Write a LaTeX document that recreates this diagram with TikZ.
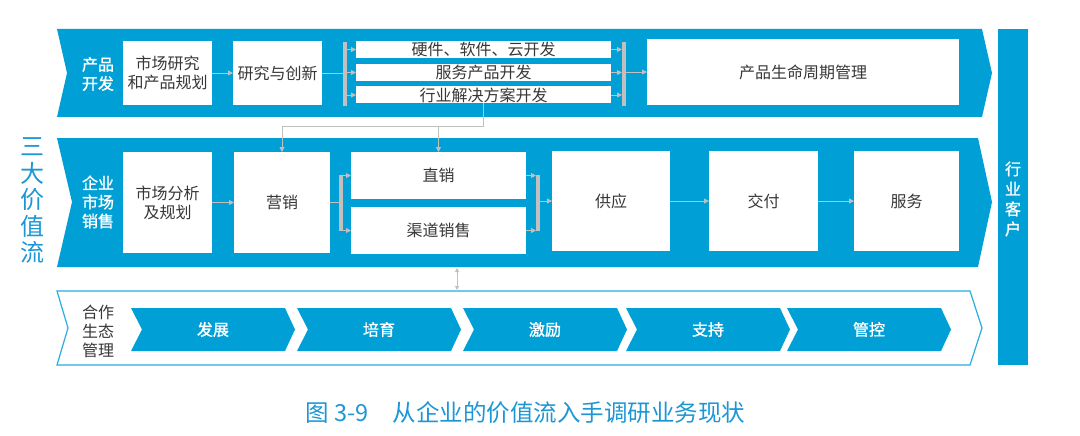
\documentclass[tikz,border=0pt]{standalone}
\usepackage{fontspec}
\setmainfont{Noto Sans CJK SC}
\newfontfamily\cjkbold[FakeBold=1.2]{Noto Sans CJK SC}
\usepackage{tikz}
\usetikzlibrary{arrows.meta, positioning, calc}
\definecolor{bandblue}{RGB}{0,160,214}
\definecolor{lineblue}{RGB}{40,172,226}
\definecolor{capblue}{RGB}{28,150,212}
\definecolor{txtgray}{RGB}{55,55,55}
\definecolor{arrgray}{RGB}{192,192,192}

\begin{document}
\begin{tikzpicture}[
  x=1pt, y=-1pt,
  box/.style={rectangle, fill=white, inner sep=0pt, outer sep=0pt, align=center,
    text=txtgray, font=\fontsize{16}{19}\selectfont},
  bandlabel/.style={align=center, text=white, font=\cjkbold\fontsize{16}{19}\selectfont},
  gbar/.style={rectangle, fill=arrgray, inner sep=0pt, outer sep=0pt, minimum width=4pt},
  garrow/.style={-{Triangle[length=5pt,width=5pt]}, arrgray, line width=0.9pt},
  gline/.style={arrgray, line width=0.9pt}
]
\useasboundingbox (0,0) rectangle (1080,436);

% bands
\fill[bandblue] (57,29) -- (982,29) -- (992,73) -- (982,117) -- (57,117) -- (67,73) -- cycle;
\fill[bandblue] (57,138) -- (978,138) -- (992,202) -- (978,267) -- (57,267) -- (72,202) -- cycle;
\draw[lineblue, line width=1.2pt, fill=white]
  (57,291) -- (970,291) -- (982,328) -- (970,365) -- (57,365) -- (68,328) -- cycle;

% customer bar
\node[rectangle, fill=bandblue, minimum width=30pt, minimum height=336pt, inner sep=0pt] (cust) at (1013,197) {};
\node[bandlabel, font=\cjkbold\fontsize{16}{20}\selectfont] (custtxt) at (1013,199) {行\\业\\客\\户};

% side title
\node[align=center, text=capblue, font=\fontsize{24}{26.5}\selectfont] (title) at (32,201) {三\\大\\价\\值\\流};

% product development
\node[bandlabel] (pdlab) at (98,74) {产品\\开发};
\node[box, minimum width=89pt, minimum height=64pt] (mrs) at (167.5,73) {市场研究\\和产品规划};
\node[box, minimum width=89pt, minimum height=64pt] (rnd) at (277.5,73) {研究与创新};
\node[gbar, minimum height=64pt] (barA) at (345,74) {};
\node[box, minimum width=255pt, minimum height=17pt] (hw) at (483.5,49.5) {硬件、软件、云开发};
\node[box, minimum width=255pt, minimum height=17pt] (svc) at (483.5,72.5) {服务产品开发};
\node[box, minimum width=255pt, minimum height=17pt] (sol) at (483.5,95) {行业解决方案开发};
\node[gbar, minimum height=64pt] (barB) at (624,74) {};
\node[box, minimum width=312pt, minimum height=66pt] (plm) at (803,72) {产品生命周期管理};

\draw[garrow] (mrs.east |- rnd.west) -- (rnd.west);
\draw[gline] (rnd.east) -- (barA.west |- rnd.east);
\foreach \b in {hw,svc,sol} {
  \draw[garrow] (barA.east |- \b.west) -- (\b.west);
  \draw[garrow] (\b.east) -- (barB.west |- \b.east);
}
\draw[garrow] (barB.east |- plm.west) -- (plm.west);

% market and sales
\node[bandlabel] (mslab) at (98,202) {企业\\市场\\销售};
\node[box, minimum width=89pt, minimum height=101pt] (mpa) at (167.5,202.5) {市场分析\\及规划};
\node[box, minimum width=96pt, minimum height=101pt] (mkt) at (282,202.5) {营销};
\node[gbar, minimum height=56pt] (brL) at (341,203) {};
\node[box, minimum width=175pt, minimum height=47pt] (dir) at (438.5,175.5) {直销};
\node[box, minimum width=175pt, minimum height=47pt] (chn) at (438.5,230.5) {渠道销售};
\node[gbar, minimum height=56pt] (brR) at (538,203) {};
\node[box, minimum width=118pt, minimum height=100pt] (sup) at (611,201) {供应};
\node[box, minimum width=109pt, minimum height=100pt] (dlv) at (763.5,201) {交付};
\node[box, minimum width=105pt, minimum height=100pt] (srv) at (906.5,201) {服务};

\draw[garrow] (mpa.east) -- (mkt.west |- mpa.east);
\draw[gline] (mkt.east) -- (brL.west |- mkt.east);
\draw[garrow] (brL.east |- dir.west) -- (dir.west);
\draw[garrow] (brL.east |- chn.west) -- (chn.west);
\draw[garrow] (dir.east) -- (brR.west |- dir.east);
\draw[garrow] (chn.east) -- (brR.west |- chn.east);
\draw[garrow] (brR.east |- sup.west) -- (sup.west);
\draw[garrow] (sup.east) -- (dlv.west |- sup.east);
\draw[garrow] (dlv.east) -- (srv.west |- dlv.east);

% solutions feed marketing and direct sales
\coordinate (feed) at ($(sol.south)+(0,23)$);
\draw[garrow] (sol.south) -- (feed) -| (mkt.north);
\draw[garrow] (feed -| dir.north) -- (dir.north);

% ecosystem
\coordinate (eco top) at (457,268);
\coordinate (eco bot) at (457,290);
\draw[gline, {Triangle[length=4pt,width=4pt]}-{Triangle[length=4pt,width=4pt]}] (eco top) -- (eco bot);

\node[align=center, text=txtgray, font=\fontsize{16}{19}\selectfont] (ecolab) at (98,331) {合作\\生态\\管理};
\foreach \x/\t [count=\i] in {131/发展,297/培育,463/激励,626/支持,787/管控} {
  \fill[bandblue] (\x,308) -- (\x+154,308) -- (\x+164,329.5) -- (\x+154,351) -- (\x,351) -- (\x+11,329.5) -- cycle;
  \node[bandlabel] (eco\i) at (\x+82,329.5) {\t};
}

% caption
\node[anchor=west, text=capblue, font=\fontsize{23.5}{25}\selectfont] (cap) at (302,413)
  {图 3-9\hspace{24pt}从企业的价值流入手调研业务现状};
\end{tikzpicture}
\end{document}
